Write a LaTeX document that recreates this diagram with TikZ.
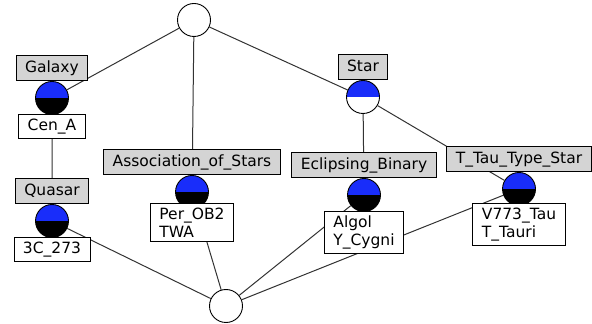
\documentclass[tikz,border=0pt]{standalone}
\usepackage{fontspec}
\setmainfont{DejaVu Sans}
\usetikzlibrary{backgrounds}
\definecolor{conceptblue}{RGB}{25,45,250}
\definecolor{attrgray}{RGB}{212,212,212}

\begin{document}
\begin{tikzpicture}[x=1pt,y=1pt,
    every node/.style={font=\fontsize{15.5}{18}\selectfont},
    concept/.style={circle,draw,line width=0.9pt,minimum size=33pt,inner sep=0pt,fill=white},
    halfobj/.style={concept,path picture={
        \fill[conceptblue] (path picture bounding box.west) rectangle (path picture bounding box.north east);}},
    fullobj/.style={concept,path picture={
        \fill[conceptblue] (path picture bounding box.west) rectangle (path picture bounding box.north east);
        \fill[black] (path picture bounding box.south west) rectangle (path picture bounding box.east);}},
    attr/.style={draw,line width=0.9pt,fill=attrgray,inner xsep=9pt,inner ysep=0pt,
        minimum height=25pt,text height=11pt,text depth=3pt,anchor=south},
    objs/.style={draw,line width=0.9pt,fill=white,align=left,inner xsep=9pt,inner ysep=4.5pt,anchor=north},
    edge/.style={draw=black!80,line width=1pt}]

    \useasboundingbox (0,0) rectangle (592,324);

    % concepts
    \node (top) at (194,304) [concept] {};
    \node (bot) at (226,18) [concept] {};
    \node (gal) at (52,226) [fullobj] {};
    \node (qua) at (52,103) [fullobj] {};
    \node (aos) at (192,132) [fullobj] {};
    \node (star) at (363,227) [halfobj] {};
    \node (ecl) at (364,129) [fullobj] {};
    \node (ttau) at (519,135) [fullobj] {};

    % attribute labels
    \node (galA) at (gal.north) [attr] {Galaxy};
    \node (quaA) at (qua.north) [attr] {Quasar};
    \node (aosA) at (aos.north) [attr] {Association\_of\_Stars};
    \node (starA) at (star.north) [attr] {Star};
    \node (eclA) at (ecl.north) [attr] {Eclipsing\_Binary};
    \node (ttauA) at (ttau.north) [attr] {T\_Tau\_Type\_Star};

    % object labels
    \node (galO) at ([yshift=1pt]gal.south) [objs] {Cen\_A};
    \node (quaO) at ([yshift=1pt]qua.south) [objs] {3C\_273};
    \node (aosO) at ([yshift=6pt]aos.south) [objs] {Per\_OB2\\TWA};
    \node (eclO) at ([yshift=1pt]ecl.south) [objs] {Algol\\Y\_Cygni};
    \node (ttauO) at ([yshift=3pt]ttau.south) [objs] {V773\_Tau\\T\_Tauri};

    \begin{scope}[on background layer]
        \draw[edge] (top) -- (gal) (top) -- (aos) (top) -- (star) (gal) -- (qua)
            (star) -- (ecl) (star) -- (ttau)
            (bot) -- (qua) (bot) -- (aos) (bot) -- (ecl) (bot) -- (ttau);
    \end{scope}

\end{tikzpicture}
\end{document}
